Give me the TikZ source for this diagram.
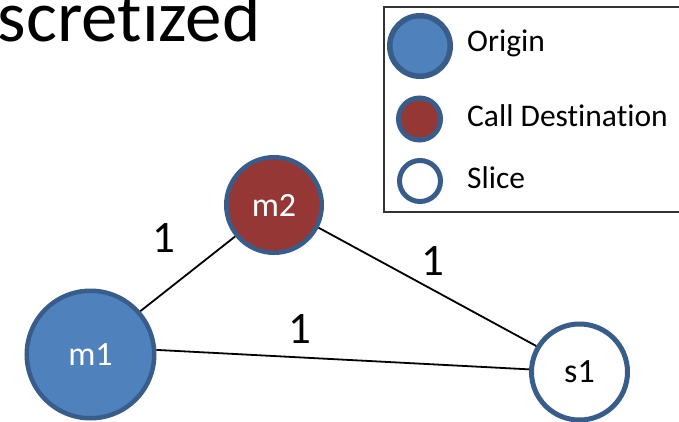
\documentclass[tikz,border=0pt]{standalone}
\usepackage{fontspec}
\setmainfont{Carlito}[Ligatures=NoCommon]
\definecolor{originblue}{HTML}{4F81BD}
\definecolor{ringblue}{HTML}{385D8A}
\definecolor{destred}{HTML}{953735}
\tikzset{
  vtx/.style={circle, inner sep=0pt, draw=ringblue},
  origin/.style={vtx, fill=originblue, text=white},
  dest/.style={vtx, fill=destred, text=white},
  slice/.style={vtx, fill=white, text=black},
  nodelbl/.style={font=\fontsize{34}{40}\selectfont},
  weight/.style={inner sep=0pt, font=\fontsize{45}{54}\selectfont},
  legtext/.style={anchor=base west, inner sep=0pt, font=\fontsize{31.5}{38}\selectfont},
  edge/.style={line width=1.8pt, black}
}
\begin{document}
\begin{tikzpicture}[x=1pt, y=-1pt]
  \useasboundingbox (0,0) rectangle (679,422);
  \clip (0,0) rectangle (679,422);
  \fill[white] (0,0) rectangle (679,422);

  % heading, partly outside the frame
  \node[anchor=base west, inner sep=0pt, font=\fontsize{73}{82}\selectfont] (title) at (-2.5,42) {scretized};

  % legend
  \draw[line width=1.2pt, black!80] (384,7) rectangle (700,212);
  \node[origin, line width=5.5pt, minimum size=60.5pt] (lo) at (420,46) {};
  \node[dest, line width=5pt, minimum size=42pt] (ld) at (419.5,119) {};
  \node[slice, line width=5pt, minimum size=41pt] (ls) at (420,181) {};
  \node[legtext] (lot) at (467,52) {Origin};
  \node[legtext] (ldt) at (467,126.7) {Call Destination};
  \node[legtext] (lst) at (467,188) {Slice};

  % graph
  \node[origin, nodelbl, line width=4.5pt, minimum size=127.5pt] (m1) at (90.5,354.5) {m1};
  \node[dest, nodelbl, line width=4.5pt, minimum size=95.5pt] (m2) at (274,205) {m2};
  \node[slice, nodelbl, line width=5pt, minimum size=96pt] (s1) at (579.5,372) {s1};

  \draw[edge] (m1.41) -- (m2.219);
  \draw[edge] (m1.4) -- (s1.177);
  \draw[edge] (m2.-27) -- (s1.149);

  \node[weight] (w12) at (163.5,238) {1};
  \node[weight] (w1s) at (299.5,329.5) {1};
  \node[weight] (w2s) at (433,261) {1};
\end{tikzpicture}
\end{document}
